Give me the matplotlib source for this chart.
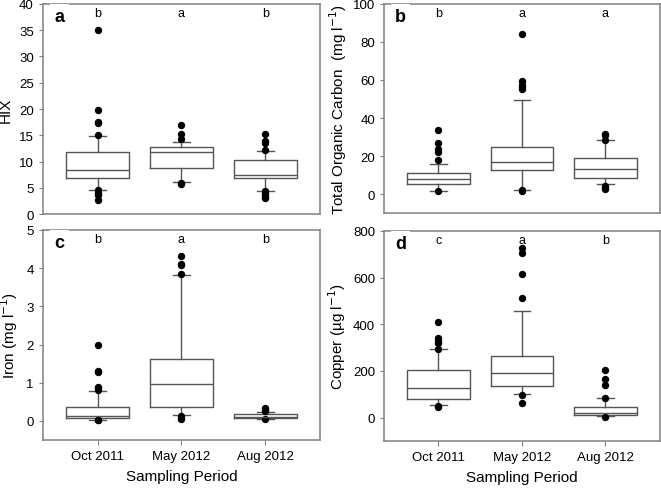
import numpy as np
import matplotlib
matplotlib.use("Agg")
import matplotlib.pyplot as plt

plt.rcParams['font.family'] = ['Liberation Sans', 'DejaVu Sans']

periods = ["Oct 2011", "May 2012", "Aug 2012"]

# box stats per period: whislo, q1, med, q3, whishi
hix_stats = [[4.6, 6.8, 8.4, 11.8, 14.9], [6.2, 8.8, 11.8, 12.8, 13.8], [4.5, 6.9, 7.5, 10.3, 12.1]]
hix_fliers = [[35.0, 19.8, 17.6, 17.3, 15.0, 4.6, 4.0, 3.6, 2.6],
              [17.0, 15.3, 14.3, 6.0, 5.7],
              [15.3, 14.0, 13.5, 12.2, 4.5, 4.0, 3.6, 3.2, 3.0]]
hix_sig = ["b", "a", "b"]

toc_stats = [[1.7, 5.6, 8.0, 11.0, 15.9], [2.3, 12.9, 17.1, 24.8, 49.5], [5.2, 8.7, 13.3, 19.2, 28.3]]
toc_fliers = [[33.9, 26.9, 23.6, 22.2, 17.8, 1.7],
              [84.3, 59.3, 57.4, 56.3, 55.5, 2.0, 1.7],
              [31.8, 31.0, 28.5, 4.5, 3.4, 2.8]]
toc_sig = ["b", "a", "a"]

fe_stats = [[0.03, 0.08, 0.12, 0.37, 0.79], [0.15, 0.36, 0.97, 1.61, 3.83], [0.06, 0.07, 0.11, 0.17, 0.23]]
fe_fliers = [[2.0, 1.31, 1.28, 0.9, 0.85, 0.8, 0.03, 0.02],
             [4.31, 4.1, 4.07, 3.85, 0.13, 0.08, 0.05],
             [0.35, 0.3, 0.25, 0.05]]
fe_sig = ["b", "a", "b"]

cu_stats = [[54, 78, 125, 205, 296], [101, 134, 193, 262, 456], [6, 11, 20, 44, 84]]
cu_fliers = [[410, 340, 330, 318, 296, 52, 45],
             [725, 705, 615, 512, 95, 62],
             [205, 165, 140, 84, 5]]
cu_sig = ["c", "a", "b"]

fig = plt.figure(figsize=(6.61, 4.89), dpi=100)
spine_col = "#808080"

panels = [
    ([0.065, 0.560, 0.419, 0.430], hix_stats, hix_fliers, hix_sig, "a", "HIX", (0, 40), [0, 5, 10, 15, 20, 25, 30, 35, 40], False, -0.11),
    ([0.581, 0.562, 0.417, 0.428], toc_stats, toc_fliers, toc_sig, "b", "Total Organic Carbon  (mg l$^{-1}$)", (-10, 100), [0, 20, 40, 60, 80, 100], False, -0.128),
    ([0.065, 0.098, 0.419, 0.430], fe_stats, fe_fliers, fe_sig, "c", "Iron (mg l$^{-1}$)", (-0.5, 5), [0, 1, 2, 3, 4, 5], True, -0.084),
    ([0.581, 0.096, 0.417, 0.430], cu_stats, cu_fliers, cu_sig, "d", "Copper (\u00b5g l$^{-1}$)", (-100, 800), [0, 200, 400, 600, 800], True, -0.132),
]

for rect, stats, fliers, sig, letter, ylab, ylim, yticks, xlabels, labx in panels:
    ax = fig.add_axes(rect)
    bstats = []
    for s, f in zip(stats, fliers):
        bstats.append(dict(whislo=s[0], q1=s[1], med=s[2], q3=s[3], whishi=s[4], fliers=f))
    ax.bxp(bstats, positions=[1, 2, 3], widths=0.75, showfliers=True,
           boxprops=dict(color="#555555", linewidth=1),
           medianprops=dict(color="#555555", linewidth=1),
           whiskerprops=dict(color="#555555", linewidth=1),
           capprops=dict(color="#555555", linewidth=1),
           capwidths=0.2,
           flierprops=dict(marker="o", markerfacecolor="black", markeredgecolor="black", markersize=4.3))
    ax.set_xlim(0.35, 3.65)
    ax.set_ylim(*ylim)
    ax.set_yticks(yticks)
    ax.set_xticks([1, 2, 3])
    if xlabels:
        ax.set_xticklabels(periods, fontsize=9.5)
        ax.set_xlabel("Sampling Period", fontsize=11, labelpad=5)
    else:
        ax.set_xticklabels([])
        ax.tick_params(axis="x", length=0)
    ax.tick_params(axis="y", labelsize=9.5, direction="out", length=3, color=spine_col)
    ax.tick_params(axis="x", direction="out", color=spine_col)
    for sp in ax.spines.values():
        sp.set_color(spine_col)
        sp.set_linewidth(1.1)
    ax.set_ylabel(ylab, fontsize=11)
    ax.yaxis.set_label_coords(labx, 0.5)
    for i, t in enumerate(sig):
        ax.text(i + 1, 0.955, t, transform=ax.get_xaxis_transform(), ha="center", va="center", fontsize=9)
    ax.text(0.06, 0.94, letter, transform=ax.transAxes, ha="center", va="center",
            fontsize=13, fontweight="bold",
            bbox=dict(facecolor="white", edgecolor="none", pad=3))

fig.savefig("out.png", dpi=100)
